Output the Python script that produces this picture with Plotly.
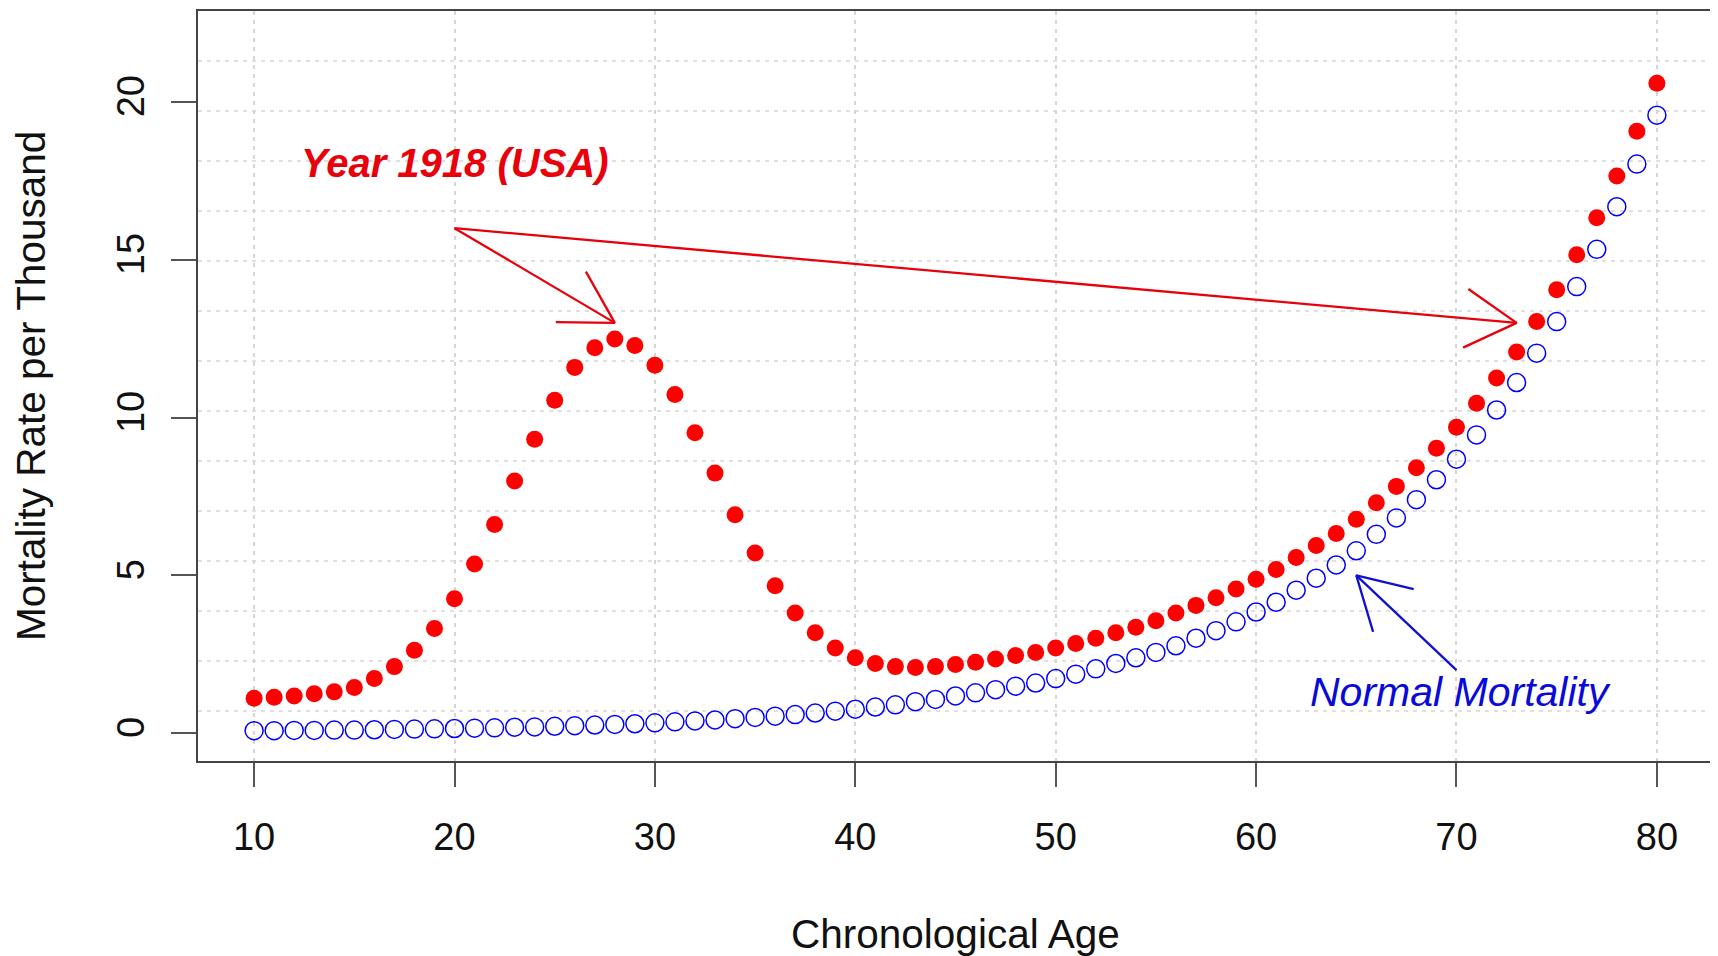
import math
import plotly.graph_objects as go

# ---------------- data ----------------
ages = list(range(10, 81))
mortality_1918 = [1.11, 1.14, 1.18, 1.25, 1.31, 1.45, 1.73, 2.11, 2.63, 3.32,
                  4.26, 5.36, 6.61, 7.99, 9.31, 10.55, 11.59, 12.21, 12.49, 12.28,
                  11.66, 10.73, 9.52, 8.24, 6.92, 5.71, 4.67, 3.81, 3.18, 2.70,
                  2.39, 2.21, 2.11, 2.08, 2.11, 2.18, 2.25, 2.35, 2.46, 2.56,
                  2.70, 2.84, 3.01, 3.18, 3.36, 3.56, 3.81, 4.05, 4.29, 4.57,
                  4.88, 5.19, 5.57, 5.95, 6.33, 6.78, 7.30, 7.82, 8.41, 9.03,
                  9.69, 10.45, 11.25, 12.08, 13.04, 14.05, 15.16, 16.33, 17.65, 19.07, 20.59]
mortality_normal = [0.08, 0.08, 0.09, 0.09, 0.10, 0.10, 0.11, 0.12, 0.13, 0.14,
                    0.15, 0.16, 0.17, 0.19, 0.20, 0.22, 0.24, 0.26, 0.28, 0.30,
                    0.33, 0.36, 0.39, 0.42, 0.46, 0.50, 0.54, 0.59, 0.64, 0.70,
                    0.76, 0.83, 0.90, 1.00, 1.07, 1.18, 1.28, 1.38, 1.49, 1.59,
                    1.73, 1.87, 2.04, 2.21, 2.39, 2.56, 2.77, 3.01, 3.25, 3.53,
                    3.84, 4.15, 4.53, 4.91, 5.33, 5.78, 6.30, 6.82, 7.40, 8.03,
                    8.68, 9.45, 10.24, 11.11, 12.04, 13.04, 14.15, 15.33, 16.68, 18.03, 19.58]
x_ticks = [10, 20, 30, 40, 50, 60, 70, 80]
y_ticks = [0, 5, 10, 15, 20]

# annotation arrows: (x_from, y_from, x_to, y_to)
red_arrows = [(20, 16, 28, 13), (20, 16, 73, 13)]
blue_arrows = [(70, 2, 65, 5)]
label_1918 = ("Year 1918 (USA)", 20, 18.06)
label_normal = ("Normal Mortality", 70.2, 1.3)

# ---------------- layout geometry ----------------
# the page body has an 8px margin, so the figure starts at (8, 8)
W, H = 1710, 948
ML, MR, MT, MB = 190, 5, 1, 195
PW, PH = W - ML - MR, H - MT - MB
XR = [7.2, 82.8]
YR = [-0.88, 22.88]
sx = PW / (XR[1] - XR[0])
sy = PH / (YR[1] - YR[0])

RED = "#ff0000"
RED_T = "#e8000b"
BLUE = "#0000ff"
FONT = "Liberation Sans, Arial, Helvetica, sans-serif"

fig = go.Figure()

# horizontal grid (R grid(ny=15) style: equal divisions of the plot region)
for k in range(1, 15):
    yv = YR[0] + k * (YR[1] - YR[0]) / 15
    fig.add_shape(type="line", xref="paper", yref="y", x0=0, x1=1, y0=yv, y1=yv,
                  line=dict(color="#d6d6d6", width=1.5, dash="4px,5px"), layer="below")


def arrow_xy(spec, head=59, ang=30):
    x0, y0, x1, y1 = spec
    dx = (x0 - x1) * sx
    dy = (y0 - y1) * sy
    n = math.hypot(dx, dy)
    ux, uy = dx / n, dy / n
    xs = [x0, x1, None]
    ys = [y0, y1, None]
    legs = []
    for s in (1, -1):
        a = math.radians(ang) * s
        rx = ux * math.cos(a) - uy * math.sin(a)
        ry = ux * math.sin(a) + uy * math.cos(a)
        legs.append((x1 + rx * head / sx, y1 + ry * head / sy))
    xs += [legs[0][0], x1, legs[1][0]]
    ys += [legs[0][1], y1, legs[1][1]]
    return xs, ys


for spec in red_arrows:
    ax_, ay_ = arrow_xy(spec)
    fig.add_trace(go.Scatter(x=ax_, y=ay_, mode="lines", line=dict(color=RED_T, width=2.3),
                             hoverinfo="skip", showlegend=False))
for spec in blue_arrows:
    ax_, ay_ = arrow_xy(spec)
    fig.add_trace(go.Scatter(x=ax_, y=ay_, mode="lines", line=dict(color="#1010d0", width=2.3),
                             hoverinfo="skip", showlegend=False))

fig.add_trace(go.Scatter(x=ages, y=mortality_normal, mode="markers",
                         marker=dict(symbol="circle-open", size=18, color=BLUE,
                                     line=dict(color=BLUE, width=1.5)),
                         name="Normal", showlegend=False))
fig.add_trace(go.Scatter(x=ages, y=mortality_1918, mode="markers",
                         marker=dict(symbol="circle", size=17, color=RED,
                                     line=dict(width=0)),
                         name="1918", showlegend=False))

fig.add_annotation(x=label_1918[1], y=label_1918[2], xref="x", yref="y",
                   text="<b><i>" + label_1918[0] + "</i></b>", showarrow=False,
                   font=dict(family=FONT, size=40, color=RED_T),
                   xanchor="center", yanchor="middle")
fig.add_annotation(x=label_normal[1], y=label_normal[2], xref="x", yref="y",
                   text="<i>" + label_normal[0] + "</i>", showarrow=False,
                   font=dict(family=FONT, size=41, color="#0a0ad8"),
                   xanchor="center", yanchor="middle")

# axis titles (positions in page pixels converted to paper coords)
fig.add_annotation(x=0.5, y=(H - MB - (934 - 8)) / PH, xref="paper", yref="paper",
                   text="Chronological Age", showarrow=False,
                   font=dict(family=FONT, size=40.5, color="#111111"),
                   xanchor="center", yanchor="middle")
fig.add_annotation(x=((31 - 8) - ML) / PW, y=0.5, xref="paper", yref="paper",
                   text="Mortality Rate per Thousand", showarrow=False, textangle=-90,
                   font=dict(family=FONT, size=40.5, color="#111111"),
                   xanchor="center", yanchor="middle")

fig.update_layout(
    width=W, height=H,
    margin=dict(l=ML, r=MR, t=MT, b=MB, pad=0),
    paper_bgcolor="white", plot_bgcolor="white",
    showlegend=False,
    font=dict(family=FONT, color="#111111"),
    xaxis=dict(range=XR, tickvals=x_ticks, ticktext=[str(v) for v in x_ticks],
               showgrid=True, gridcolor="#d6d6d6", gridwidth=1.5, griddash="4px,5px",
               zeroline=False, showline=True, linecolor="#444444", linewidth=1.6, mirror=True,
               ticks="outside", ticklen=24, tickwidth=1.6, tickcolor="#555555",
               tickfont=dict(family=FONT, size=38, color="#111111"), ticklabelstandoff=18),
    yaxis=dict(range=YR, tickvals=y_ticks, ticktext=[str(v) for v in y_ticks],
               showgrid=False, zeroline=False, showline=True, linecolor="#444444",
               linewidth=1.6, mirror=True,
               ticks="outside", ticklen=25, tickwidth=1.6, tickcolor="#555555", tickangle=-90,
               tickfont=dict(family=FONT, size=38, color="#111111"), ticklabelstandoff=12),
)

fig.write_html("out.html")
